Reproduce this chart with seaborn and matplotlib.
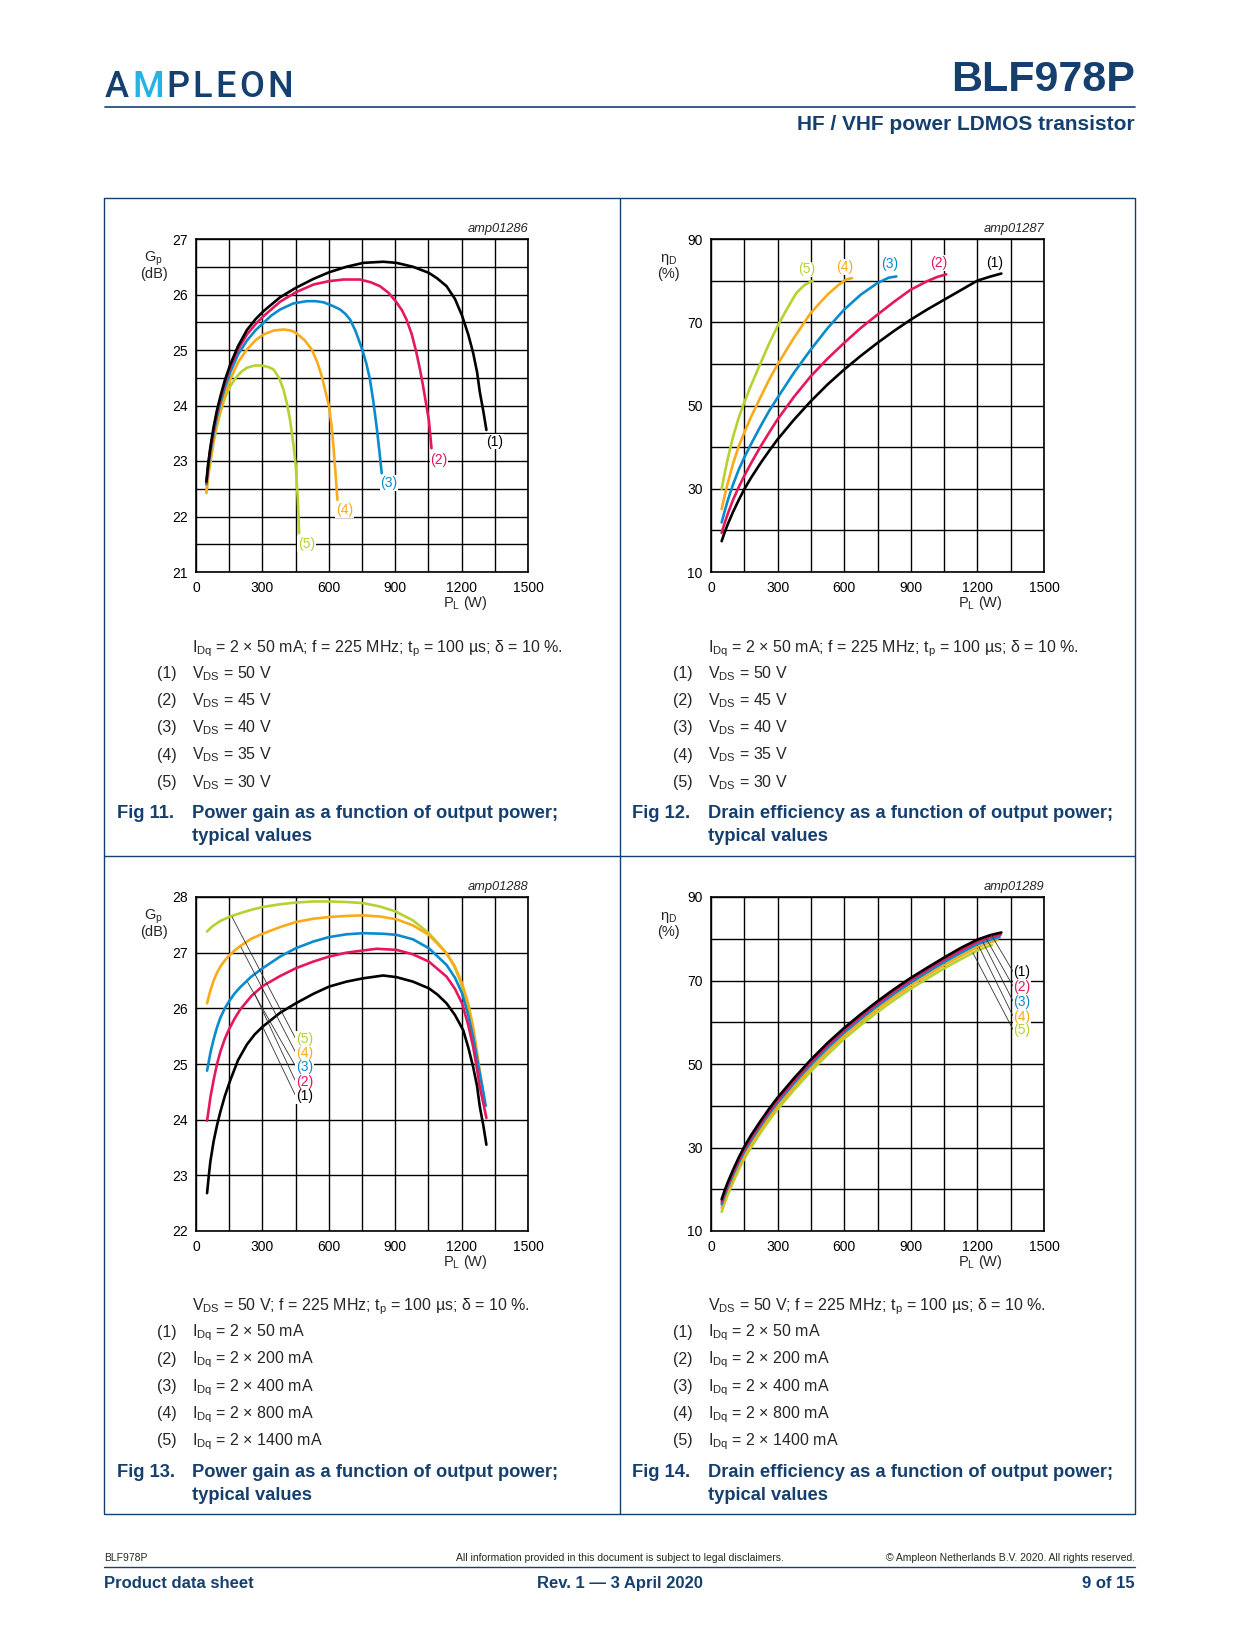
import numpy as np
import pandas as pd
import matplotlib
matplotlib.use("Agg")
import matplotlib.pyplot as plt
import seaborn as sns

sns.set_style("white")
plt.rcParams['font.family'] = ['Liberation Sans', 'DejaVu Sans']
plt.rcParams['mathtext.fontset'] = 'custom'
plt.rcParams['mathtext.rm'] = 'Liberation Sans'
plt.rcParams['mathtext.it'] = 'Liberation Sans:italic'
plt.rcParams['mathtext.bf'] = 'Liberation Sans:bold'

NAVY = '#153f6e'
CYAN = '#27b2e6'

# -------------------------------
# Data
# -------------------------------
curve_ids = ['(1)', '(2)', '(3)', '(4)', '(5)']
curve_colors = ['#000000', '#e5175f', '#0a8bcd', '#f9ab1a', '#b5d230']

# Fig 11: power gain vs load power, VDS = 50/45/40/35/30 V
gain_vds_x = [
    [47, 55, 65, 80, 95, 110, 130, 155, 190, 230, 270, 305, 380, 451, 530, 601, 680, 756, 846, 906, 980, 1052, 1090, 1132, 1170, 1202, 1230, 1252, 1270, 1282, 1298, 1312],
    [47, 55, 65, 80, 95, 110, 130, 155, 190, 230, 270, 305, 380, 451, 531, 600, 666, 741, 790, 831, 870, 902, 930, 951, 975, 996, 1012, 1026, 1040, 1052, 1064],
    [47, 55, 65, 80, 95, 110, 130, 155, 190, 230, 270, 305, 340, 380, 440, 500, 540, 576, 620, 651, 675, 696, 720, 751, 770, 786, 801, 816, 828, 839],
    [47, 55, 65, 80, 95, 110, 130, 155, 190, 230, 270, 305, 350, 395, 430, 451, 490, 523, 548, 568, 585, 601, 612, 621, 630, 639],
    [47, 55, 65, 80, 95, 110, 130, 155, 180, 205, 230, 265, 298, 330, 350, 375, 395, 410, 425, 440, 451, 460, 466],
]
gain_vds_y = [
    [22.63, 22.95, 23.25, 23.62, 23.92, 24.16, 24.45, 24.74, 25.07, 25.36, 25.56, 25.70, 25.95, 26.12, 26.28, 26.40, 26.50, 26.57, 26.59, 26.57, 26.50, 26.39, 26.29, 26.15, 25.92, 25.62, 25.28, 24.95, 24.60, 24.25, 23.90, 23.56],
    [22.60, 22.92, 23.22, 23.58, 23.88, 24.12, 24.41, 24.69, 25.01, 25.28, 25.47, 25.61, 25.87, 26.04, 26.18, 26.24, 26.27, 26.27, 26.22, 26.15, 26.03, 25.88, 25.72, 25.55, 25.28, 24.95, 24.65, 24.35, 24.02, 23.74, 23.23],
    [22.58, 22.88, 23.15, 23.50, 23.80, 24.04, 24.32, 24.60, 24.92, 25.17, 25.36, 25.49, 25.62, 25.73, 25.84, 25.88, 25.88, 25.86, 25.79, 25.73, 25.65, 25.55, 25.35, 25.01, 24.75, 24.47, 24.08, 23.62, 23.20, 22.78],
    [22.45, 22.75, 23.02, 23.38, 23.68, 23.92, 24.20, 24.47, 24.78, 25.01, 25.18, 25.28, 25.35, 25.37, 25.35, 25.31, 25.18, 25.01, 24.78, 24.53, 24.25, 23.99, 23.65, 23.26, 22.80, 22.30],
    [22.42, 22.72, 22.98, 23.35, 23.64, 23.87, 24.13, 24.35, 24.50, 24.61, 24.68, 24.72, 24.72, 24.69, 24.65, 24.50, 24.29, 24.05, 23.74, 23.30, 22.90, 22.30, 21.70],
]
gain_vds_lbl_x = [1348, 1098, 872, 672, 499]
gain_vds_lbl_y = [23.35, 23.02, 22.60, 22.12, 21.51]

# Fig 12: drain efficiency vs load power, VDS = 50/45/40/35/30 V
eff_vds_x = [
    [48, 60, 75, 99, 125, 149, 180, 225, 262, 299, 374, 449, 524, 599, 674, 749, 824, 899, 975, 1050, 1125, 1200, 1260, 1308],
    [48, 60, 75, 99, 125, 149, 180, 225, 262, 299, 374, 449, 524, 599, 674, 749, 824, 899, 975, 1020, 1060],
    [48, 60, 75, 99, 125, 149, 180, 225, 262, 299, 374, 449, 524, 599, 674, 749, 800, 835],
    [48, 60, 75, 99, 125, 149, 180, 225, 262, 299, 374, 449, 524, 575, 610, 635],
    [48, 60, 75, 99, 125, 149, 180, 225, 262, 299, 340, 384, 420, 459],
]
eff_vds_y = [
    [17.4, 19.3, 21.4, 24.4, 27.3, 29.8, 32.6, 36.3, 39.1, 41.8, 46.6, 51.0, 55.0, 58.6, 61.9, 65.0, 67.9, 70.6, 73.1, 75.4, 77.7, 80.0, 81.0, 81.7],
    [19.4, 21.5, 23.9, 27.3, 30.4, 33.0, 36.1, 40.3, 43.5, 46.6, 52.1, 57.0, 61.2, 65.0, 68.6, 71.8, 74.9, 77.8, 79.9, 80.9, 81.5],
    [21.9, 24.3, 27.1, 31.0, 34.6, 37.4, 40.7, 45.2, 48.7, 51.8, 57.9, 63.4, 68.5, 73.0, 76.6, 79.4, 80.7, 81.0],
    [25.1, 28.0, 31.3, 36.0, 40.2, 43.4, 47.2, 52.2, 56.2, 59.8, 66.3, 72.2, 76.6, 79.0, 80.3, 80.6],
    [30.0, 33.3, 37.1, 42.4, 47.1, 50.6, 54.8, 60.4, 64.9, 69.0, 73.0, 77.0, 78.9, 80.0],
]
eff_vds_lbl_x = [1278, 1027, 803, 603, 431]
eff_vds_lbl_y = [84.2, 84.2, 83.9, 83.2, 82.7]

# Fig 13: power gain vs load power, IDq = 2x50/200/400/800/1400 mA
gain_idq_x = [
    [50, 58, 65, 80, 95, 110, 130, 155, 190, 230, 265, 301, 380, 451, 530, 601, 680, 756, 846, 906, 980, 1052, 1090, 1132, 1170, 1207, 1230, 1252, 1270, 1282, 1298, 1312],
    [50, 58, 65, 80, 95, 110, 130, 150, 175, 200, 250, 301, 380, 451, 530, 601, 680, 756, 816, 906, 980, 1052, 1132, 1170, 1202, 1230, 1252, 1270, 1282, 1298, 1312],
    [50, 58, 65, 80, 95, 110, 130, 150, 175, 200, 250, 301, 380, 451, 530, 601, 680, 756, 846, 906, 980, 1052, 1132, 1170, 1202, 1230, 1252, 1270, 1282, 1298, 1309],
    [50, 58, 65, 80, 95, 110, 130, 150, 175, 200, 250, 301, 380, 451, 530, 601, 680, 756, 830, 906, 980, 1052, 1132, 1170, 1202, 1230, 1252, 1275, 1294],
    [50, 65, 80, 110, 155, 200, 250, 301, 380, 451, 530, 601, 680, 756, 830, 902, 980, 1052, 1100, 1132, 1165, 1192, 1215, 1237, 1252, 1267, 1275],
]
gain_idq_y = [
    [22.68, 23.00, 23.25, 23.62, 23.90, 24.14, 24.42, 24.71, 25.07, 25.35, 25.53, 25.67, 25.92, 26.09, 26.26, 26.39, 26.48, 26.54, 26.59, 26.56, 26.48, 26.36, 26.25, 26.09, 25.88, 25.61, 25.30, 24.95, 24.60, 24.24, 23.90, 23.55],
    [23.98, 24.20, 24.40, 24.72, 25.00, 25.22, 25.45, 25.63, 25.82, 25.98, 26.22, 26.40, 26.58, 26.72, 26.84, 26.93, 27.00, 27.04, 27.07, 27.05, 26.97, 26.84, 26.57, 26.35, 26.09, 25.70, 25.31, 24.90, 24.59, 24.30, 24.03],
    [24.88, 25.05, 25.20, 25.45, 25.66, 25.83, 26.00, 26.13, 26.27, 26.38, 26.57, 26.72, 26.93, 27.08, 27.20, 27.28, 27.33, 27.35, 27.34, 27.32, 27.24, 27.08, 26.78, 26.55, 26.27, 25.88, 25.49, 25.10, 24.83, 24.50, 24.25],
    [26.09, 26.22, 26.32, 26.50, 26.64, 26.75, 26.86, 26.95, 27.04, 27.12, 27.25, 27.34, 27.46, 27.55, 27.61, 27.64, 27.66, 27.67, 27.65, 27.60, 27.49, 27.32, 26.99, 26.75, 26.45, 26.08, 25.67, 25.07, 24.58],
    [27.38, 27.44, 27.49, 27.57, 27.65, 27.71, 27.77, 27.82, 27.87, 27.90, 27.92, 27.92, 27.91, 27.89, 27.83, 27.74, 27.58, 27.35, 27.14, 26.99, 26.77, 26.51, 26.22, 25.79, 25.50, 25.19, 24.85],
]
gain_idq_lbl_y = [24.42, 24.68, 24.95, 25.20, 25.45]
gain_idq_lead_x = [301, 264, 233, 203, 163]
gain_idq_lead_y = [25.67, 26.27, 26.47, 27.10, 27.64]

# Fig 14: drain efficiency vs load power, IDq = 2x50/200/400/800/1400 mA
eff_idq_x = [
    [48, 60, 75, 99, 125, 149, 180, 225, 262, 299, 374, 449, 524, 599, 674, 749, 824, 899, 975, 1050, 1125, 1200, 1260, 1308],
    [48, 60, 75, 99, 125, 149, 180, 225, 262, 299, 374, 449, 524, 599, 674, 749, 824, 899, 975, 1050, 1125, 1200, 1260, 1305],
    [48, 60, 75, 99, 125, 149, 180, 225, 262, 299, 374, 449, 524, 599, 674, 749, 824, 899, 975, 1050, 1125, 1200, 1260, 1300],
    [48, 60, 75, 99, 125, 149, 180, 225, 262, 299, 374, 449, 524, 599, 674, 749, 824, 899, 975, 1050, 1125, 1200, 1250, 1290],
    [48, 60, 75, 99, 125, 149, 180, 225, 262, 299, 374, 449, 524, 599, 674, 749, 824, 899, 975, 1050, 1125, 1200, 1240, 1265],
]
eff_idq_y = [
    [17.6, 19.5, 21.6, 24.6, 27.6, 30.1, 32.9, 36.5, 39.3, 41.9, 46.6, 51.0, 55.0, 58.6, 61.9, 65.0, 67.9, 70.6, 73.1, 75.5, 77.8, 79.8, 80.9, 81.5],
    [17.0, 18.9, 21.0, 24.0, 27.0, 29.5, 32.3, 35.9, 38.7, 41.3, 46.0, 50.4, 54.4, 58.1, 61.4, 64.5, 67.4, 70.1, 72.6, 75.0, 77.2, 79.3, 80.4, 81.0],
    [16.4, 18.3, 20.4, 23.4, 26.4, 28.9, 31.7, 35.3, 38.1, 40.7, 45.4, 49.8, 53.8, 57.5, 60.8, 63.9, 66.8, 69.5, 72.0, 74.4, 76.6, 78.7, 79.8, 80.4],
    [15.6, 17.5, 19.6, 22.6, 25.6, 28.1, 30.9, 34.5, 37.3, 39.9, 44.6, 49.0, 53.0, 56.8, 60.1, 63.2, 66.1, 68.8, 71.3, 73.7, 75.9, 78.0, 79.0, 79.7],
    [14.6, 16.5, 18.6, 21.6, 24.7, 27.2, 30.0, 33.7, 36.5, 39.1, 43.8, 48.2, 52.2, 56.0, 59.3, 62.4, 65.3, 68.0, 70.5, 72.9, 75.1, 77.2, 78.0, 78.5],
]
eff_idq_lbl_y = [72.0, 68.5, 64.9, 61.3, 58.1]
eff_idq_lead_x = [1263, 1240, 1225, 1207, 1180]
eff_idq_lead_y = [80.9, 80.0, 79.2, 78.1, 76.6]

vds_items = [r'V$_{\rm DS}$ = 50 V', r'V$_{\rm DS}$ = 45 V', r'V$_{\rm DS}$ = 40 V',
             r'V$_{\rm DS}$ = 35 V', r'V$_{\rm DS}$ = 30 V']
idq_items = [r'I$_{\rm Dq}$ = 2 × 50 mA', r'I$_{\rm Dq}$ = 2 × 200 mA', r'I$_{\rm Dq}$ = 2 × 400 mA',
             r'I$_{\rm Dq}$ = 2 × 800 mA', r'I$_{\rm Dq}$ = 2 × 1400 mA']
cond_vds = r'I$_{\rm Dq}$ = 2 × 50 mA; f = 225 MHz; t$_{\rm p}$ = 100 µs; δ = 10 %.'
cond_idq = r'V$_{\rm DS}$ = 50 V; f = 225 MHz; t$_{\rm p}$ = 100 µs; δ = 10 %.'

palette = dict(zip(curve_ids, curve_colors))


def long_df(xs, ys):
    parts = [pd.DataFrame({'PL': x, 'val': y, 'curve': cid}) for cid, x, y in zip(curve_ids, xs, ys)]
    return pd.concat(parts, ignore_index=True)


def style_axes(ax, ylim, ymajor, yminor, code, ytop, yunit):
    ax.set_xlim(0, 1500)
    ax.set_ylim(*ylim)
    ax.set_xticks(np.arange(0, 1501, 300))
    ax.set_xticks(np.arange(0, 1501, 150), minor=True)
    ax.set_yticks(ymajor)
    ax.set_yticks(yminor, minor=True)
    ax.set_axisbelow(True)
    ax.grid(which='both', color='black', lw=1.0)
    ax.tick_params(which='both', length=0, labelsize=10, colors='black')
    ax.tick_params(axis='x', pad=6.5)
    ax.tick_params(axis='y', pad=6)
    for s in ax.spines.values():
        s.set_color('black')
        s.set_linewidth(1.2)
    ax.set_xlabel('')
    ax.set_ylabel('')
    ax.text(0.81, -0.105, r'P$_{\rm L}$ (W)', transform=ax.transAxes, ha='center', va='baseline', fontsize=10.5)
    ax.text(-0.128, 0.932, ytop, transform=ax.transAxes, ha='center', va='baseline', fontsize=10.5)
    ax.text(-0.128, 0.884, yunit, transform=ax.transAxes, ha='center', va='baseline', fontsize=10.5)
    ax.text(1.0, 1.03, code, transform=ax.transAxes, ha='right', va='center', fontsize=9.3, style='italic')


def draw_curves(ax, xs, ys):
    df = long_df(xs, ys)
    sns.lineplot(data=df, x='PL', y='val', hue='curve', hue_order=curve_ids[::-1], palette=palette,
                 estimator=None, sort=False, legend=False, linewidth=1.9, ax=ax)


fig = plt.figure(figsize=(12.4, 16.52), dpi=100)

# page layer in pixel coordinates
page = fig.add_axes([0, 0, 1, 1])
page.set_xlim(0, 1240)
page.set_ylim(1652, 0)
page.axis('off')

# header
logo_font = dict(fontsize=26, family='Roboto', fontweight='medium')
t = page.text(105, 97, 'A', color=NAVY, va='baseline', **logo_font)
for ch, col in zip('MPLEON', [CYAN, NAVY, NAVY, NAVY, NAVY, NAVY]):
    t = page.annotate(ch, xy=(1, 0), xycoords=t, xytext=(2.2, 0), textcoords='offset points',
                      color=col, va='bottom', **logo_font)
page.text(1135, 91, 'BLF978P', fontsize=31, fontweight='bold', color=NAVY, ha='right', va='baseline')
page.plot([105, 1135], [107, 107], color=NAVY, lw=1.2)
page.text(1135, 130, 'HF / VHF power LDMOS transistor', fontsize=15, fontweight='bold', color=NAVY,
          ha='right', va='baseline')

# frame round the four figures
page.plot([104, 1135, 1135, 104, 104], [198, 198, 1514, 1514, 198], color=NAVY, lw=1.0)
page.plot([620, 620], [198, 1514], color=NAVY, lw=1.0)
page.plot([104, 1135], [856, 856], color=NAVY, lw=1.0)


def caption(dx, dy, cond, items, fig_no, title):
    page.text(192 + dx, 652 + dy, cond, fontsize=11.5, va='baseline')
    for i, item in enumerate(items):
        y = 678 + 27.2 * i + dy
        page.text(157 + dx, y, curve_ids[i], fontsize=11.5, va='baseline')
        page.text(192 + dx, y, item, fontsize=11.5, va='baseline')
    page.text(117 + dx, 818.5 + dy, fig_no, fontsize=13.2, fontweight='bold', color=NAVY, va='baseline')
    page.text(192 + dx, 818.5 + dy, title, fontsize=13.2, fontweight='bold', color=NAVY, va='baseline')
    page.text(192 + dx, 841 + dy, 'typical values', fontsize=13.2, fontweight='bold', color=NAVY, va='baseline')


caption(0, 0, cond_vds, vds_items, 'Fig 11.', 'Power gain as a function of output power;')
caption(515.5, 0, cond_vds, vds_items, 'Fig 12.', 'Drain efficiency as a function of output power;')
caption(0, 658.5, cond_idq, idq_items, 'Fig 13.', 'Power gain as a function of output power;')
caption(515.5, 658.5, cond_idq, idq_items, 'Fig 14.', 'Drain efficiency as a function of output power;')

# footer
page.text(104, 1561, 'BLF978P', fontsize=7.5, va='baseline')
page.text(620, 1561, 'All information provided in this document is subject to legal disclaimers.',
          fontsize=7.5, ha='center', va='baseline')
page.text(1135, 1561, '© Ampleon Netherlands B.V. 2020. All rights reserved.', fontsize=7.5,
          ha='right', va='baseline')
page.plot([104, 1135], [1567, 1567], color=NAVY, lw=1.0)
page.text(104, 1588, 'Product data sheet', fontsize=12, fontweight='bold', color=NAVY, va='baseline')
page.text(620, 1588, 'Rev. 1 — 3 April 2020', fontsize=12, fontweight='bold', color=NAVY,
          ha='center', va='baseline')
page.text(1135, 1588, '9 of 15', fontsize=12, fontweight='bold', color=NAVY, ha='right', va='baseline')

# -------------------------------
# Fig 11
# -------------------------------
ax1 = fig.add_axes([196 / 1240, 1 - 572 / 1652, 332 / 1240, 333 / 1652])
draw_curves(ax1, gain_vds_x, gain_vds_y)
style_axes(ax1, (21, 27), np.arange(21, 28, 1), np.arange(21, 27.01, 0.5), 'amp01286',
           r'G$_{\rm p}$', '(dB)')
for i, cid in enumerate(curve_ids):
    ax1.text(gain_vds_lbl_x[i], gain_vds_lbl_y[i], cid, color=curve_colors[i], fontsize=10,
             ha='center', va='center', zorder=5,
             bbox=dict(fc='white', ec='none', pad=0.6))

# -------------------------------
# Fig 12
# -------------------------------
ax2 = fig.add_axes([711 / 1240, 1 - 572 / 1652, 333 / 1240, 333 / 1652])
draw_curves(ax2, eff_vds_x, eff_vds_y)
style_axes(ax2, (10, 90), np.arange(10, 91, 20), np.arange(10, 91, 10), 'amp01287',
           r'η$_{\rm D}$', '(%)')
for i, cid in enumerate(curve_ids):
    ax2.text(eff_vds_lbl_x[i], eff_vds_lbl_y[i], cid, color=curve_colors[i], fontsize=10,
             ha='center', va='center', zorder=5,
             bbox=dict(fc='white', ec='none', pad=0.6))

# -------------------------------
# Fig 13
# -------------------------------
ax3 = fig.add_axes([196 / 1240, 1 - 1231 / 1652, 332 / 1240, 334 / 1652])
draw_curves(ax3, gain_idq_x, gain_idq_y)
style_axes(ax3, (22, 28), np.arange(22, 29, 1), np.arange(22, 29, 1), 'amp01288',
           r'G$_{\rm p}$', '(dB)')
for i, cid in enumerate(curve_ids):
    ax3.annotate(cid, xy=(gain_idq_lead_x[i], gain_idq_lead_y[i]), xytext=(451, gain_idq_lbl_y[i]),
                 color=curve_colors[i], fontsize=10, ha='left', va='center', zorder=5,
                 bbox=dict(fc='white', ec='none', pad=0.4),
                 arrowprops=dict(arrowstyle='-', color='#333333', lw=0.6, shrinkA=0, shrinkB=0,
                                 relpos=(0, 0.5)))

# -------------------------------
# Fig 14
# -------------------------------
ax4 = fig.add_axes([711 / 1240, 1 - 1231 / 1652, 333 / 1240, 334 / 1652])
draw_curves(ax4, eff_idq_x, eff_idq_y)
style_axes(ax4, (10, 90), np.arange(10, 91, 20), np.arange(10, 91, 10), 'amp01289',
           r'η$_{\rm D}$', '(%)')
for i, cid in enumerate(curve_ids):
    ax4.annotate(cid, xy=(eff_idq_lead_x[i], eff_idq_lead_y[i]), xytext=(1362, eff_idq_lbl_y[i]),
                 color=curve_colors[i], fontsize=10, ha='left', va='center', zorder=5,
                 bbox=dict(fc='white', ec='none', pad=0.4),
                 arrowprops=dict(arrowstyle='-', color='#333333', lw=0.6, shrinkA=0, shrinkB=0,
                                 relpos=(0, 0.5)))

fig.savefig('out.png', dpi=100)
